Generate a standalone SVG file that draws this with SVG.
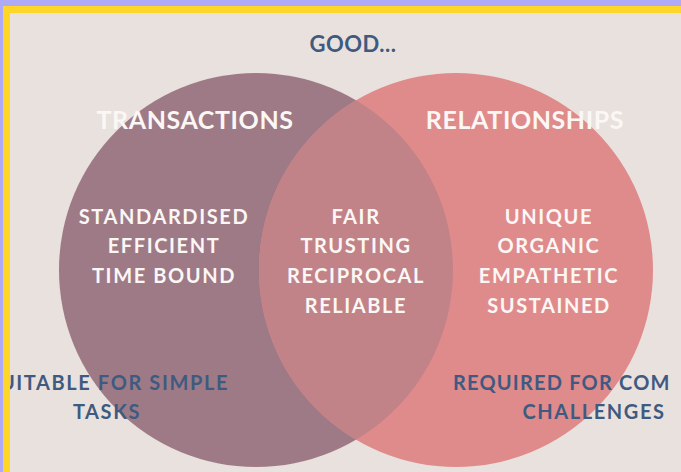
<svg xmlns="http://www.w3.org/2000/svg" width="681" height="472" viewBox="0 0 681 472">
<style>
.w{fill:#fbf7f5;font-family:Lato,"Noto Sans",sans-serif;font-weight:700;text-anchor:middle}
.t{font-size:25px;letter-spacing:0.6px}
.l{font-size:20px;letter-spacing:1.6px}
.b{fill:#3f5a80;font-family:Lato,"Noto Sans",sans-serif;font-weight:700;font-size:20px;letter-spacing:1.6px}
</style>
<defs>
<clipPath id="cl"><circle cx="256" cy="270" r="197"/></clipPath>
</defs>
<rect x="0" y="0" width="681" height="472" fill="#e9e1dd"/>
<g id="circle-transactions"><circle cx="256" cy="270" r="197" fill="#9e7a86"/></g>
<g id="circle-relationships"><circle cx="456" cy="270" r="197" fill="#e08b8b"/></g>
<g id="overlap"><circle cx="456" cy="270" r="197" fill="#c18388" clip-path="url(#cl)"/></g>
<g id="title"><text x="353" y="52" class="b" style="font-size:22px;letter-spacing:0.5px;text-anchor:middle">GOOD...</text></g>
<g id="transactions">
<text x="195" y="129" class="w t">TRANSACTIONS</text>
<text x="164" y="224" class="w l">STANDARDISED</text>
<text x="164" y="253" class="w l">EFFICIENT</text>
<text x="164" y="283" class="w l">TIME BOUND</text>
</g>
<g id="shared">
<text x="356" y="224" class="w l">FAIR</text>
<text x="356" y="253" class="w l">TRUSTING</text>
<text x="356" y="283" class="w l">RECIPROCAL</text>
<text x="356" y="313" class="w l">RELIABLE</text>
</g>
<g id="relationships">
<text x="525" y="129" class="w t">RELATIONSHIPS</text>
<text x="549" y="224" class="w l">UNIQUE</text>
<text x="549" y="253" class="w l">ORGANIC</text>
<text x="549" y="283" class="w l">EMPATHETIC</text>
<text x="549" y="313" class="w l">SUSTAINED</text>
</g>
<g id="note-left">
<text x="229" y="390" class="b" text-anchor="end">UITABLE FOR SIMPLE</text>
<text x="107" y="419" class="b" text-anchor="middle">TASKS</text>
</g>
<g id="note-right">
<text x="453" y="390" class="b" style="letter-spacing:1.2px">REQUIRED FOR COM</text>
<text x="594" y="419" class="b" text-anchor="middle">CHALLENGES</text>
</g>
<g id="frame">
<rect x="0" y="0" width="681" height="6" fill="#aeaaf5"/>
<rect x="0" y="0" width="3" height="472" fill="#aeaaf5"/>
<rect x="3" y="6" width="678" height="7" fill="#fdd628"/>
<rect x="3" y="6" width="7" height="466" fill="#fdd628"/>
</g>
</svg>
